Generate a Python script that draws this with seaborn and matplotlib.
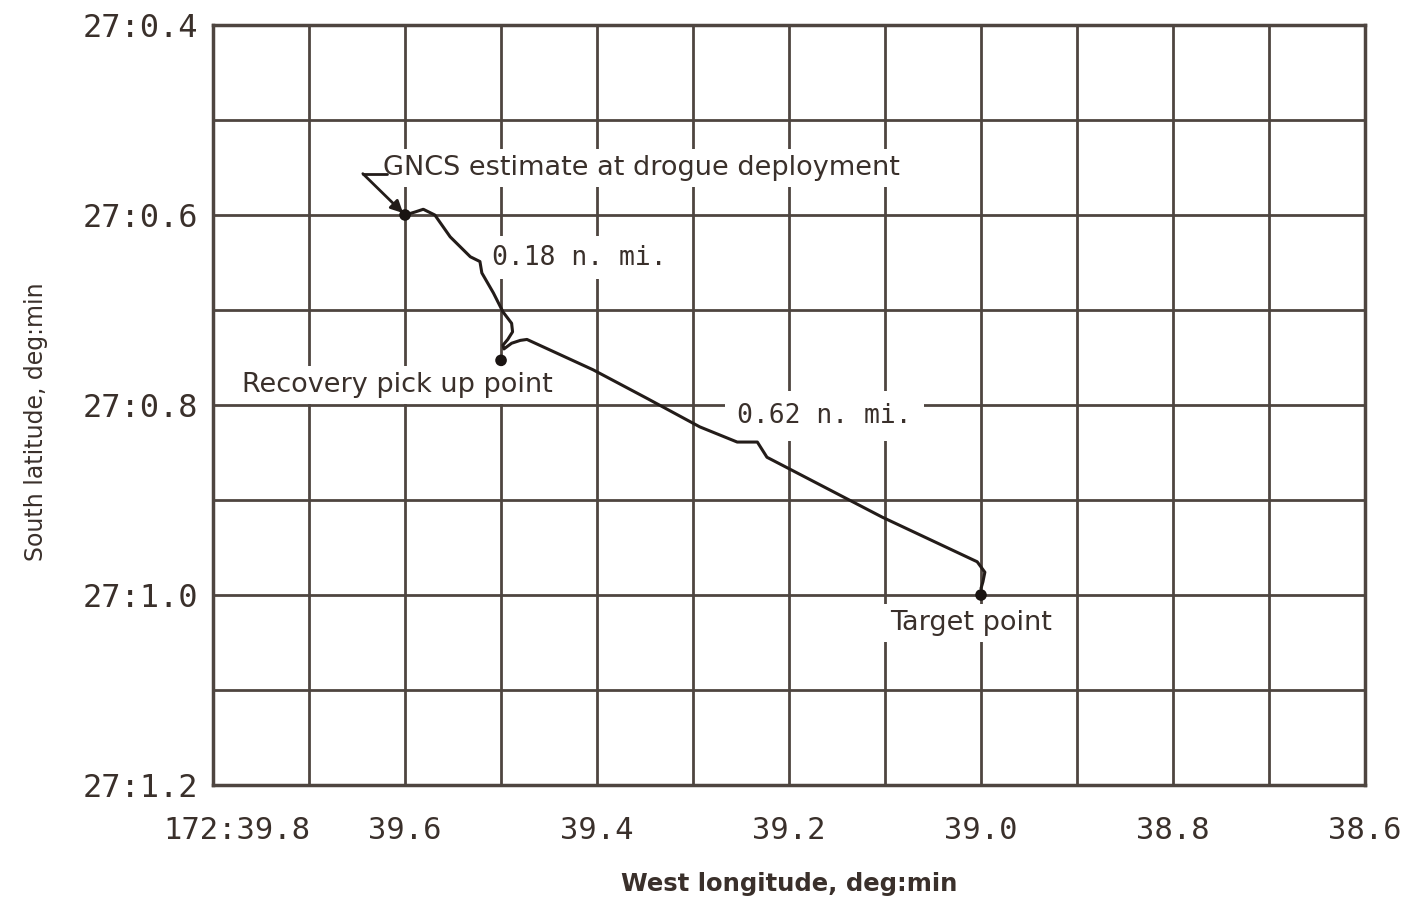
import matplotlib
matplotlib.use("Agg")
import matplotlib.pyplot as plt
import matplotlib.transforms as mtransforms
import seaborn as sns
import pandas as pd

# -------------------------------
# Data (minutes of arc)
# -------------------------------
path_lon = [39.600, 39.590, 39.581, 39.569, 39.553, 39.532, 39.522, 39.520, 39.508,
            39.498, 39.489, 39.488, 39.493, 39.498, 39.497, 39.489, 39.480, 39.473,
            39.404, 39.348, 39.293, 39.254, 39.233, 39.223, 39.202, 39.103, 39.004,
            38.996, 38.998, 39.000]
path_lat = [0.600, 0.597, 0.594, 0.600, 0.623, 0.644, 0.649, 0.661, 0.682,
            0.702, 0.714, 0.723, 0.731, 0.737, 0.741, 0.735, 0.732, 0.731,
            0.763, 0.793, 0.823, 0.839, 0.839, 0.855, 0.866, 0.918, 0.965,
            0.976, 0.986, 0.993]

point_names = ["GNCS estimate", "Recovery pick up point", "Target point"]
point_lon = [39.600, 39.500, 39.000]
point_lat = [0.600, 0.753, 1.000]

x_ticks = [39.8, 39.6, 39.4, 39.2, 39.0, 38.8, 38.6]
x_tick_labels = ["172:39.8", "39.6", "39.4", "39.2", "39.0", "38.8", "38.6"]
y_ticks = [0.4, 0.6, 0.8, 1.0, 1.2]
y_tick_labels = ["27:0.4", "27:0.6", "27:0.8", "27:1.0", "27:1.2"]
grid_x = [39.7, 39.5, 39.3, 39.1, 38.9, 38.7]
grid_y = [0.5, 0.7, 0.9, 1.1]

ink = "#3a302b"
grid_col = "#4e4540"
curve_col = "#231c19"

sns.set_theme(style="white")
plt.rcParams["font.family"] = ["DejaVu Sans"]

path_df = pd.DataFrame({"lon": path_lon, "lat": path_lat})
pts_df = pd.DataFrame({"lon": point_lon, "lat": point_lat, "name": point_names})

fig = plt.figure(figsize=(14.11, 8.98), dpi=100)
ax = fig.add_axes([0.151, 0.1258, 0.8164, 0.8464])

# grid: labelled every 0.2, lines every 0.1
ax.set_xticks(x_ticks)
ax.set_xticks(grid_x, minor=True)
ax.set_yticks(y_ticks)
ax.set_yticks(grid_y, minor=True)
ax.grid(True, which="both", color=grid_col, linewidth=2.0, zorder=0)
ax.set_axisbelow(True)

sns.lineplot(data=path_df, x="lon", y="lat", sort=False, estimator=None,
             color=curve_col, linewidth=2.2, ax=ax, zorder=4)
sns.scatterplot(data=pts_df, x="lon", y="lat", color="#1a1412", s=70,
                edgecolor="none", ax=ax, zorder=5, legend=False)

ax.set_xlim(39.8, 38.6)
ax.set_ylim(1.2, 0.4)

mono = "DejaVu Sans Mono"
ax.set_xticklabels(x_tick_labels, fontfamily=mono, fontsize=22, color=ink)
ax.set_yticklabels(y_tick_labels, fontfamily=mono, fontsize=23, color=ink)
ax.tick_params(axis="both", which="both", length=0)
ax.tick_params(axis="x", pad=22)
ax.tick_params(axis="y", pad=11)
# first longitude label sits a little right of its tick
first = ax.get_xticklabels()[0]
first.set_transform(first.get_transform() +
                    mtransforms.ScaledTranslation(24 / 100, 0, fig.dpi_scale_trans))

for s in ax.spines.values():
    s.set_color(grid_col)
    s.set_linewidth(2.5)

ax.set_xlabel("West longitude, deg:min", fontsize=17.5, fontweight="bold",
              color=ink, labelpad=20)
ax.set_ylabel("South latitude, deg:min", fontsize=17, color=ink)
ax.yaxis.set_label_coords(-0.1432, 0.4776)

box = dict(facecolor="white", edgecolor="none", pad=4)

# labels sit on white patches that break the grid, under the track
ax.text(39.623, 0.5505, "GNCS estimate at drogue deployment", fontsize=19.5,
        color=ink, ha="left", va="center", bbox=box, zorder=3)
ax.plot([39.644, 39.619], [0.5565, 0.5565], color=curve_col, linewidth=2, zorder=4)
ax.annotate("", xy=(39.602, 0.598), xytext=(39.644, 0.5565),
            arrowprops=dict(arrowstyle="-|>", color=curve_col, lw=2,
                            mutation_scale=18, shrinkA=0, shrinkB=0), zorder=4)

ax.text(39.509, 0.645, "0.18 n. mi.", fontfamily=mono, fontsize=19,
        color=ink, ha="left", va="center",
        bbox=dict(facecolor="white", edgecolor="none", pad=6), zorder=3)
ax.text(39.254, 0.8116, "0.62 n. mi.", fontfamily=mono, fontsize=19,
        color=ink, ha="left", va="center",
        bbox=dict(facecolor="white", edgecolor="none", pad=9), zorder=3)
ax.text(39.770, 0.779, "Recovery pick up point", fontsize=19.5, color=ink,
        ha="left", va="center", bbox=box, zorder=3)
ax.text(39.095, 1.0295, "Target point", fontsize=19.5, color=ink,
        ha="left", va="center", bbox=box, zorder=3)

plt.savefig("out.png", dpi=100, facecolor="white")
